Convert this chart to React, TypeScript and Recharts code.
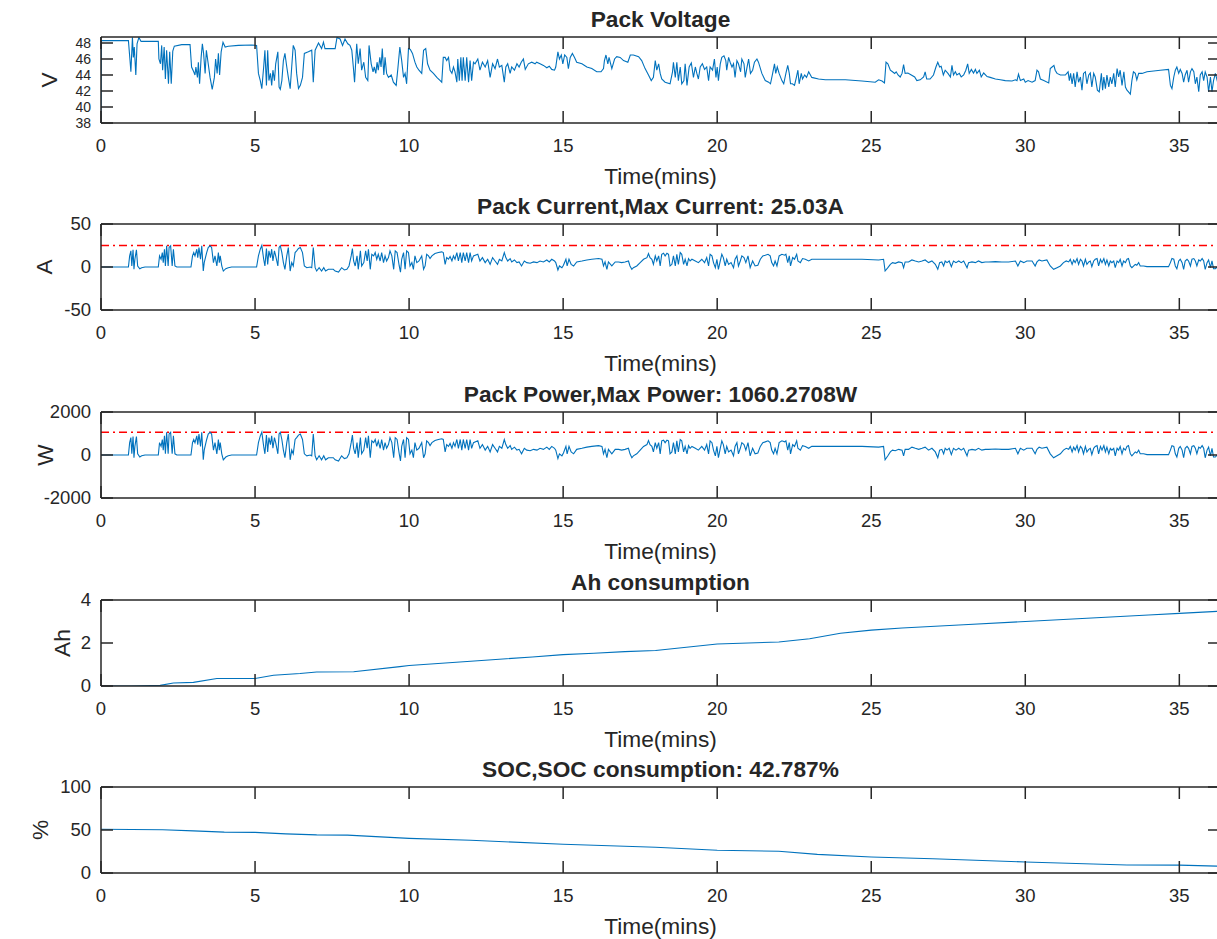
import React from 'react'
import { LineChart, Line, XAxis, YAxis, ReferenceLine } from 'recharts'

// time axis (minutes)
const timeTicks = [0, 5, 10, 15, 20, 25, 30, 35]
const timeMax = 36.32

// Pack voltage (V)
const voltTime = [
  0, 0.01, 0.89, 0.94, 0.97, 1.02, 1.05, 1.08, 1.13, 1.17,
  1.23, 1.3, 1.86, 1.88, 1.93, 1.97, 2.0, 2.05, 2.09, 2.13,
  2.19, 2.23, 2.28, 2.33, 2.38, 2.62, 2.89, 2.94, 3.01, 3.05,
  3.08, 3.13, 3.16, 3.2, 3.25, 3.29, 3.33, 3.38, 3.42, 3.48,
  3.54, 3.61, 3.68, 3.72, 3.77, 3.81, 3.85, 3.9, 3.96, 4.03,
  4.13, 4.46, 4.89, 5.05, 5.11, 5.17, 5.22, 5.28, 5.32, 5.37,
  5.41, 5.45, 5.5, 5.54, 5.58, 5.63, 5.67, 5.74, 5.78, 5.82,
  5.87, 5.92, 5.97, 6.03, 6.08, 6.14, 6.19, 6.24, 6.3, 6.35,
  6.41, 6.47, 6.54, 6.6, 6.73, 6.84, 6.89, 6.95, 7.06, 7.16,
  7.22, 7.27, 7.6, 7.66, 7.76, 7.84, 7.92, 8.01, 8.08, 8.14,
  8.19, 8.23, 8.3, 8.35, 8.41, 8.46, 8.53, 8.59, 8.66, 8.7,
  8.77, 8.83, 8.87, 8.92, 8.96, 9.0, 9.05, 9.09, 9.13, 9.18,
  9.22, 9.27, 9.33, 9.42, 9.49, 9.58, 9.63, 9.7, 9.76, 9.82,
  9.87, 9.92, 9.98, 10.04, 10.11, 10.19, 10.25, 10.32, 10.41, 10.47,
  10.54, 10.6, 10.68, 10.79, 10.9, 11.01, 11.06, 11.11, 11.17, 11.22,
  11.28, 11.33, 11.39, 11.44, 11.49, 11.55, 11.58, 11.63, 11.68, 11.72,
  11.76, 11.82, 11.87, 11.93, 11.98, 12.03, 12.09, 12.14, 12.23, 12.3,
  12.38, 12.47, 12.55, 12.63, 12.71, 12.79, 12.87, 12.93, 13.01, 13.09,
  13.14, 13.2, 13.28, 13.33, 13.42, 13.5, 13.57, 13.64, 13.71, 13.77,
  13.87, 13.98, 14.09, 14.14, 14.25, 14.36, 14.47, 14.55, 14.63, 14.72,
  14.76, 14.83, 14.88, 14.94, 14.99, 15.05, 15.12, 15.17, 15.23, 15.3,
  15.37, 15.44, 15.61, 15.77, 15.93, 16.09, 16.23, 16.31, 16.34, 16.39,
  16.45, 16.49, 16.58, 16.67, 16.74, 16.85, 16.96, 17.1, 17.18, 17.28,
  17.45, 17.55, 17.66, 17.77, 17.86, 17.93, 17.99, 18.04, 18.1, 18.15,
  18.2, 18.31, 18.47, 18.55, 18.58, 18.64, 18.69, 18.74, 18.8, 18.85,
  18.92, 18.96, 19.02, 19.09, 19.16, 19.23, 19.29, 19.34, 19.39, 19.45,
  19.52, 19.59, 19.66, 19.72, 19.77, 19.85, 19.91, 19.96, 20.0, 20.04,
  20.1, 20.15, 20.22, 20.28, 20.31, 20.37, 20.42, 20.48, 20.53, 20.58,
  20.64, 20.69, 20.76, 20.8, 20.87, 20.91, 20.96, 21.02, 21.08, 21.15,
  21.21, 21.29, 21.34, 21.45, 21.56, 21.67, 21.73, 21.8, 21.86, 21.9,
  21.95, 22.01, 22.1, 22.16, 22.23, 22.29, 22.34, 22.38, 22.44, 22.51,
  22.57, 22.62, 22.66, 22.73, 22.77, 22.84, 22.9, 22.97, 23.07, 23.29,
  23.51, 23.72, 24.16, 24.7, 25.13, 25.24, 25.35, 25.43, 25.48, 25.54,
  25.62, 25.69, 25.76, 25.81, 25.87, 25.94, 26.0, 26.05, 26.1, 26.19,
  26.3, 26.41, 26.48, 26.59, 26.7, 26.75, 26.8, 26.91, 27.02, 27.1,
  27.16, 27.22, 27.27, 27.34, 27.4, 27.49, 27.57, 27.62, 27.67, 27.73,
  27.78, 27.86, 27.92, 28.0, 28.07, 28.13, 28.18, 28.25, 28.32, 28.38,
  28.43, 28.51, 28.57, 28.65, 28.76, 28.86, 29.03, 29.19, 29.35, 29.57,
  29.68, 29.73, 29.78, 29.84, 29.95, 30.0, 30.09, 30.22, 30.32, 30.38,
  30.43, 30.49, 30.6, 30.76, 30.81, 30.87, 30.93, 30.97, 31.03, 31.14,
  31.3, 31.39, 31.43, 31.47, 31.52, 31.57, 31.62, 31.68, 31.73, 31.79,
  31.84, 31.89, 31.95, 32.0, 32.06, 32.11, 32.16, 32.22, 32.27, 32.34,
  32.4, 32.47, 32.51, 32.55, 32.6, 32.65, 32.71, 32.76, 32.81, 32.87,
  32.92, 32.98, 33.03, 33.08, 33.14, 33.2, 33.25, 33.3, 33.35, 33.41,
  33.46, 33.51, 33.57, 33.62, 33.68, 33.79, 33.95, 34.17, 34.38, 34.65,
  34.71, 34.76, 34.82, 34.87, 34.92, 34.98, 35.03, 35.09, 35.14, 35.19,
  35.25, 35.3, 35.36, 35.41, 35.47, 35.52, 35.57, 35.63, 35.68, 35.74,
  35.79, 35.84, 35.9, 35.95, 36.01, 36.06, 36.11, 36.17, 36.23, 36.32,
]
const voltValue = [
  38, 48.3, 48.3, 45.9, 44.4, 48.7, 46.2, 47.5, 44.0, 47.9,
  48.7, 48.2, 48.2, 46.0, 45.4, 47.7, 44.6, 47.5, 43.5, 47.1,
  42.9, 46.9, 42.9, 47.0, 47.6, 47.8, 47.8, 45.0, 44.4, 44.0,
  45.0, 43.7, 45.6, 42.9, 46.2, 47.9, 46.7, 44.2, 47.1, 45.4,
  43.7, 42.2, 43.7, 46.0, 44.2, 46.7, 44.0, 46.9, 48.1, 47.5,
  47.6, 47.7, 47.75, 47.7, 44.2, 43.3, 42.3, 45.0, 47.1, 42.7,
  47.1, 43.3, 44.2, 42.7, 44.6, 43.3, 45.4, 46.9, 42.5, 42.2,
  43.3, 45.8, 46.7, 45.0, 43.7, 42.3, 45.0, 47.7, 47.1, 44.2,
  42.3, 42.7, 43.7, 46.7, 46.9, 47.1, 43.1, 47.1, 48.0, 47.3,
  48.1, 47.3, 47.3, 48.7, 48.5, 47.7, 48.5, 47.9, 47.7, 47.1,
  45.0, 43.1, 47.9, 45.4, 47.3, 44.6, 45.6, 43.7, 43.3, 47.7,
  45.4, 44.4, 45.0, 44.2, 45.6, 44.6, 46.2, 45.0, 47.3, 44.0,
  46.2, 44.2, 43.7, 44.0, 43.1, 42.7, 44.6, 47.5, 45.8, 43.7,
  44.2, 42.9, 47.3, 47.2, 46.7, 45.6, 45.0, 44.6, 44.2, 47.1,
  47.3, 45.4, 44.6, 44.2, 43.7, 43.3, 43.1, 46.2, 46.2, 45.8,
  46.2, 44.6, 44.2, 45.0, 44.4, 43.1, 46.0, 43.3, 46.2, 43.3,
  46.2, 43.3, 46.2, 43.1, 45.8, 43.3, 45.6, 45.4, 46.0, 44.6,
  45.6, 45.0, 45.8, 43.7, 45.4, 44.8, 46.0, 45.0, 45.2, 43.1,
  45.0, 45.4, 44.2, 45.0, 44.6, 45.4, 45.0, 45.6, 46.0, 44.7,
  45.4, 45.6, 45.4, 45.6, 45.4, 45.2, 44.9, 45.1, 44.7, 44.6,
  45.0, 46.9, 46.0, 46.5, 45.4, 46.5, 46.2, 44.8, 46.2, 46.7,
  46.2, 45.6, 45.4, 45.0, 44.8, 44.4, 44.4, 44.8, 45.8, 46.5,
  45.4, 46.2, 44.8, 46.0, 46.3, 46.2, 45.8, 45.6, 46.5, 46.5,
  46.3, 45.8, 44.8, 44.0, 43.3, 43.7, 45.8, 44.6, 45.4, 44.2,
  43.5, 43.1, 42.9, 44.4, 45.6, 43.7, 45.6, 43.3, 45.0, 42.9,
  43.3, 45.4, 42.7, 45.0, 45.5, 43.7, 45.0, 44.2, 43.5, 45.0,
  45.4, 44.7, 45.0, 43.3, 45.0, 44.6, 46.0, 43.7, 45.0, 43.3,
  45.4, 46.2, 46.4, 45.8, 44.6, 46.2, 45.6, 45.0, 45.4, 43.7,
  45.8, 45.4, 44.4, 46.0, 45.4, 43.7, 44.8, 46.0, 44.2, 44.6,
  45.6, 46.0, 45.6, 44.2, 43.3, 43.1, 42.9, 44.2, 45.4, 44.2,
  45.0, 44.2, 43.3, 42.9, 44.2, 45.2, 44.2, 42.9, 42.9, 42.7,
  43.7, 44.6, 42.9, 44.2, 43.5, 44.0, 43.7, 44.4, 43.7, 43.5,
  43.4, 43.4, 43.4, 43.25, 43.1, 43.4, 43.25, 43.0, 45.6, 45.4,
  44.6, 44.4, 44.2, 44.4, 44.0, 43.75, 44.2, 45.3, 44.2, 44.25,
  44.0, 43.75, 43.3, 43.4, 43.75, 44.4, 43.5, 43.5, 44.0, 45.0,
  45.6, 45.0, 45.1, 44.0, 44.6, 44.2, 43.75, 45.2, 44.0, 44.4,
  44.0, 44.2, 43.75, 44.0, 44.6, 45.4, 44.2, 44.7, 44.25, 44.7,
  44.2, 44.6, 43.75, 44.25, 43.8, 43.7, 43.5, 43.4, 43.3, 43.25,
  43.4, 43.3, 44.1, 43.3, 43.5, 43.1, 43.3, 43.1, 43.3, 44.6,
  44.4, 43.5, 43.3, 43.0, 44.8, 45.0, 45.2, 44.6, 44.2, 44.0,
  44.0, 44.4, 43.3, 44.2, 42.9, 44.2, 42.5, 44.4, 43.1, 43.75,
  42.1, 44.2, 44.4, 42.9, 44.0, 44.25, 42.5, 44.2, 43.75, 42.1,
  41.9, 44.2, 42.1, 43.75, 42.3, 44.0, 42.5, 43.75, 42.9, 44.2,
  42.5, 44.8, 43.75, 44.6, 42.7, 44.4, 42.5, 42.1, 41.9, 41.6,
  43.3, 44.4, 44.2, 43.4, 44.2, 44.2, 44.4, 44.5, 44.6, 44.7,
  42.7, 42.3, 43.75, 44.6, 45.0, 44.2, 44.7, 44.2, 43.1, 44.0,
  44.6, 43.1, 44.4, 44.8, 44.4, 42.9, 43.75, 41.9, 44.0, 44.4,
  43.3, 44.4, 43.75, 41.9, 43.75, 41.9, 43.3, 44.2, 43.3, 44.0,
]

// Pack current (A) and pack power (W) share one time base
const driveTime = [
  0, 0.89, 0.93, 0.97, 1.0, 1.04, 1.07, 1.1, 1.15, 1.19,
  1.26, 1.32, 1.43, 1.86, 1.9, 1.95, 1.99, 2.02, 2.06, 2.09,
  2.13, 2.18, 2.21, 2.26, 2.31, 2.35, 2.4, 2.46, 2.92, 2.97,
  3.01, 3.05, 3.11, 3.14, 3.18, 3.23, 3.27, 3.32, 3.35, 3.43,
  3.48, 3.54, 3.59, 3.65, 3.7, 3.76, 3.81, 3.84, 3.87, 3.92,
  3.97, 4.05, 4.13, 4.24, 5.05, 5.11, 5.17, 5.22, 5.28, 5.32,
  5.37, 5.41, 5.45, 5.5, 5.54, 5.58, 5.63, 5.67, 5.74, 5.78,
  5.82, 5.87, 5.92, 5.97, 6.03, 6.08, 6.14, 6.19, 6.24, 6.3,
  6.35, 6.41, 6.47, 6.54, 6.6, 6.68, 6.79, 6.84, 6.89, 6.95,
  7.0, 7.08, 7.16, 7.23, 7.29, 7.38, 7.54, 7.6, 7.71, 7.81,
  7.9, 7.98, 8.05, 8.12, 8.16, 8.2, 8.25, 8.31, 8.35, 8.42,
  8.46, 8.53, 8.59, 8.64, 8.68, 8.74, 8.79, 8.85, 8.9, 8.95,
  9.0, 9.06, 9.11, 9.17, 9.22, 9.27, 9.33, 9.38, 9.44, 9.5,
  9.55, 9.61, 9.68, 9.72, 9.76, 9.82, 9.87, 9.92, 9.98, 10.03,
  10.09, 10.14, 10.19, 10.25, 10.32, 10.41, 10.47, 10.52, 10.57, 10.63,
  10.68, 10.74, 10.84, 10.95, 11.06, 11.11, 11.17, 11.22, 11.28, 11.33,
  11.39, 11.44, 11.49, 11.55, 11.6, 11.66, 11.71, 11.76, 11.82, 11.87,
  11.93, 11.98, 12.03, 12.09, 12.23, 12.3, 12.38, 12.47, 12.55, 12.63,
  12.71, 12.79, 12.87, 12.93, 13.01, 13.09, 13.14, 13.2, 13.28, 13.33,
  13.42, 13.5, 13.57, 13.65, 13.74, 13.82, 13.93, 14.04, 14.15, 14.25,
  14.36, 14.47, 14.55, 14.63, 14.72, 14.76, 14.83, 14.88, 14.96, 15.01,
  15.09, 15.13, 15.19, 15.26, 15.34, 15.44, 15.61, 15.77, 15.93, 16.15,
  16.26, 16.31, 16.36, 16.42, 16.47, 16.58, 16.69, 16.8, 16.9, 17.01,
  17.12, 17.17, 17.23, 17.28, 17.39, 17.5, 17.61, 17.72, 17.77, 17.82,
  17.88, 17.93, 17.99, 18.04, 18.1, 18.15, 18.2, 18.26, 18.31, 18.37,
  18.42, 18.47, 18.53, 18.58, 18.64, 18.69, 18.74, 18.8, 18.85, 18.91,
  18.96, 19.02, 19.07, 19.12, 19.18, 19.29, 19.39, 19.5, 19.59, 19.66,
  19.72, 19.77, 19.83, 19.88, 19.94, 19.99, 20.04, 20.1, 20.15, 20.2,
  20.26, 20.31, 20.37, 20.45, 20.53, 20.58, 20.64, 20.69, 20.75, 20.8,
  20.87, 20.93, 21.0, 21.07, 21.15, 21.23, 21.32, 21.4, 21.48, 21.56,
  21.65, 21.72, 21.77, 21.83, 21.88, 21.94, 22.01, 22.1, 22.19, 22.23,
  22.29, 22.34, 22.38, 22.45, 22.51, 22.58, 22.62, 22.7, 22.77, 22.86,
  22.97, 23.07, 23.72, 24.7, 25.24, 25.4, 25.45, 25.54, 25.62, 25.69,
  25.78, 25.89, 26.0, 26.05, 26.1, 26.21, 26.32, 26.43, 26.54, 26.65,
  26.75, 26.86, 26.97, 27.08, 27.16, 27.22, 27.29, 27.35, 27.4, 27.46,
  27.53, 27.6, 27.67, 27.75, 27.84, 27.92, 28.0, 28.11, 28.16, 28.27,
  28.38, 28.48, 28.59, 28.7, 28.81, 29.03, 29.24, 29.46, 29.68, 29.76,
  29.84, 29.95, 30.05, 30.22, 30.32, 30.38, 30.45, 30.54, 30.7, 30.81,
  30.92, 31.03, 31.14, 31.24, 31.33, 31.41, 31.46, 31.52, 31.57, 31.62,
  31.68, 31.73, 31.79, 31.84, 31.89, 31.95, 32.0, 32.06, 32.11, 32.16,
  32.22, 32.27, 32.33, 32.38, 32.44, 32.49, 32.55, 32.6, 32.65, 32.71,
  32.76, 32.81, 32.87, 32.92, 32.98, 33.03, 33.08, 33.14, 33.19, 33.25,
  33.3, 33.35, 33.41, 33.46, 33.57, 33.62, 33.68, 33.73, 33.84, 33.95,
  34.65, 34.71, 34.76, 34.82, 34.87, 34.92, 34.98, 35.03, 35.09, 35.14,
  35.19, 35.25, 35.3, 35.36, 35.41, 35.47, 35.52, 35.57, 35.63, 35.68,
  35.74, 35.79, 35.84, 35.9, 35.95, 36.01, 36.06, 36.11, 36.17, 36.32,
]
const ampValue = [
  0, 0, 12.9, 18.8, 1.2, 19.9, -2.7, 9.0, 19.9, 1.2,
  -2.0, -0.8, 0, 0, 12.9, 9.0, 16.8, 5.1, 20.7, 1.2,
  24.6, 1.2, 22.7, 24.6, 1.2, 20.7, 1.2, 0, 0, 12.9,
  16.8, 12.9, 20.7, 10.9, 22.7, 9.0, 24.6, -4.7, 5.1, 16.8,
  22.7, 24.6, 22.7, 5.1, 12.9, 1.2, 16.8, 5.1, 12.9, 1.2,
  -4.7, -2.0, -0.8, 0, 0, 12.9, 20.7, 25.03, 9.0, 1.2,
  21.5, 3.1, 18.8, 10.9, 20.7, 7.0, 18.8, 12.9, 1.2, 22.7,
  24.6, 16.8, 5.1, -2.7, 12.9, 22.7, -4.7, 5.1, 1.2, 16.8,
  18.8, 21.5, 22.7, 16.8, 1.2, -0.8, 0, -0.8, 22.7, -0.8,
  -4.7, -0.8, -4.7, -0.8, -4.7, -2.7, -2.7, -4.7, -5.9, -0.8,
  -3.5, -2.7, 1.2, 12.9, 21.5, 7.0, 1.2, 12.9, -2.7, 18.8,
  1.2, 5.1, 18.8, 7.0, 20.7, -2.7, 14.8, 12.9, 16.8, 9.0,
  14.8, 7.0, 16.8, 5.1, 12.9, 7.0, 10.9, 18.8, 12.9, -2.7,
  18.8, 16.8, 1.2, -5.9, 9.0, 16.8, -2.7, 18.8, 16.8, 1.2,
  5.1, -2.7, 12.9, 5.1, 7.0, 12.9, -2.7, 1.2, 14.8, 12.9,
  9.8, 12.9, 15.6, 16.8, 17.6, 16.8, 3.1, 10.9, 9.0, 12.1,
  7.0, 12.9, 9.0, 16.8, 7.0, 16.8, 5.1, 16.8, 7.0, 16.8,
  5.1, 16.8, 7.0, 12.9, 14.8, 7.0, 10.9, 5.1, 9.0, 3.1,
  10.9, 7.0, 3.1, 9.0, 7.0, 16.8, 10.9, 7.0, 9.8, 5.9,
  8.2, 5.1, 5.9, 1.2, 7.0, 5.1, 4.3, 5.9, 5.1, 7.0,
  5.9, 8.2, 5.9, 9.0, 7.0, 5.1, -3.5, 1.2, -0.8, 2.0,
  9.0, 1.2, 9.0, 3.1, 1.2, 5.9, 7.0, 8.2, 9.0, 9.8,
  9.0, 1.2, 5.9, -2.7, 5.9, 1.2, 5.9, 5.9, 5.1, 5.9,
  7.0, 1.2, -2.7, -0.8, 1.2, 5.1, 9.0, 10.9, 15.6, 10.9,
  9.0, 3.1, 12.9, 7.0, 12.9, 1.2, 14.8, 16.0, 12.9, 16.0,
  14.8, 1.2, 3.1, 12.9, 1.2, 14.8, 3.1, 16.8, 14.8, 3.1,
  9.0, 1.2, 9.8, 7.0, 9.0, 7.0, 5.1, 9.0, 5.1, 10.9,
  1.2, 14.8, 12.9, 5.1, -0.8, 9.0, -2.7, 7.0, 14.8, 10.9,
  1.2, 9.0, 3.1, 5.1, -0.8, 9.0, 12.9, 1.2, 7.0, 12.9,
  10.9, 5.1, 12.9, -0.8, 7.0, 1.2, 2.0, 9.0, 12.9, 13.7,
  14.8, 12.9, 5.1, 1.2, 7.0, 1.2, 12.9, 14.8, 13.7, 14.8,
  5.1, 12.9, 1.2, 10.9, 9.0, 14.8, 7.0, 5.1, 9.8, 9.0,
  7.0, 9.0, 9.0, 9.0, 8.2, 9.0, -4.7, -0.8, 3.1, 5.1,
  4.3, 5.9, 5.1, -0.8, 5.9, 5.9, 8.2, 7.0, 5.9, 7.0,
  8.2, 5.1, 7.0, 3.1, -2.7, 5.1, 5.9, 1.2, 7.0, 5.1,
  7.0, 0.4, 7.0, 5.1, 7.0, 5.1, 7.0, -0.8, 5.1, 5.9,
  5.1, 7.0, 5.1, 5.9, 5.9, 6.3, 5.9, 5.9, 7.0, 1.2,
  7.0, 5.1, 7.0, 7.0, 1.2, 5.9, 8.2, 7.0, 8.2, 1.2,
  -2.7, -0.8, 1.2, 5.1, 7.0, 5.9, 9.0, 3.1, 8.2, 5.1,
  9.8, 3.1, 9.0, 7.0, 1.2, 9.0, 3.1, 5.9, 7.0, 0.4,
  7.0, 9.0, 9.8, 1.2, 9.0, 5.1, 9.8, 3.1, 8.2, 1.2,
  7.0, 5.1, 7.0, -0.8, 7.0, 5.1, 9.0, 1.2, 7.0, 5.1,
  9.0, 9.8, 1.2, -0.8, 3.1, 2.0, 5.1, 1.2, 1.2, 0.4,
  0.4, 5.1, 9.8, 9.0, 1.2, -2.0, 7.0, 9.0, 5.1, -2.7,
  7.0, 9.0, 7.0, 1.2, 9.0, 9.8, 7.0, 1.2, 8.2, 7.0,
  9.8, 7.0, -2.7, 5.1, 8.2, -0.8, 7.0, -2.0, -2.0, 3.0,
]
const wattValue = [
  0, 0, 574, 808, 55, 856, -128, 400, 856, 55,
  -95, -38, 0, 0, 574, 400, 722, 227, 890, 55,
  1058, 55, 976, 1058, 55, 890, 55, 0, 0, 574,
  722, 574, 890, 485, 976, 400, 1058, -223, 227, 722,
  976, 1058, 976, 227, 574, 55, 722, 227, 574, 55,
  -223, -95, -38, 0, 0, 574, 890, 1060.27, 400, 55,
  925, 143, 808, 485, 890, 312, 808, 574, 55, 976,
  1058, 722, 227, -128, 574, 976, -223, 227, 55, 722,
  808, 925, 976, 722, 55, -38, 0, -38, 976, -38,
  -223, -38, -223, -38, -223, -128, -128, -223, -280, -38,
  -166, -128, 55, 574, 925, 312, 55, 574, -128, 808,
  55, 227, 808, 312, 890, -128, 659, 574, 722, 400,
  659, 312, 722, 227, 574, 312, 485, 808, 574, -128,
  808, 722, 55, -280, 400, 722, -128, 808, 722, 55,
  227, -128, 574, 227, 312, 574, -128, 55, 659, 574,
  436, 574, 671, 722, 757, 722, 143, 485, 400, 538,
  312, 574, 400, 722, 312, 722, 227, 722, 312, 722,
  227, 722, 312, 574, 659, 312, 485, 227, 400, 143,
  485, 312, 143, 400, 312, 722, 485, 312, 436, 263,
  365, 227, 263, 55, 312, 227, 198, 263, 227, 312,
  263, 365, 263, 400, 312, 227, -166, 55, -38, 92,
  400, 55, 400, 143, 55, 263, 312, 365, 400, 436,
  400, 55, 263, -128, 263, 55, 263, 263, 227, 263,
  312, 55, -128, -38, 55, 227, 400, 485, 671, 485,
  400, 143, 574, 312, 574, 55, 659, 688, 574, 688,
  659, 55, 143, 574, 55, 659, 143, 722, 659, 143,
  400, 55, 436, 312, 400, 312, 227, 400, 227, 485,
  55, 659, 574, 227, -38, 400, -128, 312, 659, 485,
  55, 400, 143, 227, -38, 400, 574, 55, 312, 574,
  485, 227, 574, -38, 312, 55, 92, 400, 574, 610,
  659, 574, 227, 55, 312, 55, 574, 659, 610, 659,
  227, 574, 55, 485, 400, 659, 312, 227, 436, 400,
  312, 400, 400, 400, 365, 400, -223, -38, 143, 227,
  198, 263, 227, -38, 263, 263, 365, 312, 263, 312,
  365, 227, 312, 143, -128, 227, 263, 55, 312, 227,
  312, 18, 312, 227, 312, 227, 312, -38, 227, 263,
  227, 312, 227, 263, 263, 280, 263, 263, 312, 55,
  312, 227, 312, 312, 55, 263, 365, 312, 365, 55,
  -128, -38, 55, 227, 312, 263, 400, 143, 365, 227,
  436, 143, 400, 312, 55, 400, 143, 263, 312, 18,
  312, 400, 436, 55, 400, 227, 436, 143, 365, 55,
  312, 227, 312, -38, 312, 227, 400, 55, 312, 227,
  400, 436, 55, -38, 143, 92, 227, 55, 55, 18,
  18, 227, 436, 400, 55, -95, 312, 400, 227, -128,
  312, 400, 312, 55, 400, 436, 312, 55, 365, 312,
  436, 312, -128, 227, 365, -38, 312, -95, -95, 135,
]
const maxCurrent = 25.03
const maxPower = 1060.2708

// Ah consumption
const ahTime = [0, 1, 1.92, 2.35, 3, 3.76, 5, 5.6, 6.46, 7, 8.2, 9.7, 10, 12, 14, 15, 16, 17, 18, 19, 20, 22, 23, 24, 25, 26, 28, 30, 32, 34, 35, 36.32]
const ahValue = [0, 0, 0.03, 0.14, 0.17, 0.35, 0.35, 0.5, 0.58, 0.65, 0.66, 0.9, 0.95, 1.15, 1.35, 1.46, 1.52, 1.6, 1.65, 1.8, 1.95, 2.05, 2.2, 2.45, 2.6, 2.7, 2.85, 3.0, 3.15, 3.3, 3.38, 3.48]

// state of charge (%)
const socTime = [0, 2, 3, 4, 5, 6, 7, 8, 10, 12, 15, 18, 20, 22, 23.25, 25, 27, 30, 33.3, 35, 36.32]
const socValue = [50.8, 50.3, 49, 47.5, 47.2, 45.5, 44.3, 44, 40.3, 38, 33.4, 30, 26.4, 25.3, 21.7, 18.6, 16.5, 12.8, 9.3, 9.1, 7.9]

const AXIS = '#262626'
const BLUE = '#0072BD'
const FONT = '"Liberation Sans", Arial, Helvetica, sans-serif'
const PLOT_LEFT = 101
const PLOT_RIGHT = 1220
const PLOT_H = 86
const PAD_TOP = 40
const PAD_BOTTOM = 70
const CHART_W = 1240
const TICK_LEN = 12
const TICK_FONT = 18.5
const LABEL_FONT = 22.7

const bottomTick = (p: any) => (
  <g>
    <line x1={p.x} y1={p.y} x2={p.x} y2={p.y - TICK_LEN} stroke={AXIS} strokeWidth={1.5} />
    <text x={p.x} y={p.y + 29} textAnchor="middle" fontSize={TICK_FONT} fill={AXIS} fontFamily={FONT}>
      {String(p.payload.value)}
    </text>
  </g>
)
const topTick = (p: any) => (
  <line x1={p.x} y1={p.y} x2={p.x} y2={p.y + TICK_LEN} stroke={AXIS} strokeWidth={1.5} />
)
const makeLeftTick = (fontSize: number) => (p: any) => (
  <g>
    <line x1={p.x} y1={p.y} x2={p.x + TICK_LEN} y2={p.y} stroke={AXIS} strokeWidth={1.5} />
    <text x={p.x - 10} y={p.y} dy="0.35em" textAnchor="end" fontSize={fontSize} fill={AXIS} fontFamily={FONT}>
      {String(p.payload.value)}
    </text>
  </g>
)
const rightTick = (p: any) => (
  <line x1={p.x} y1={p.y} x2={p.x - TICK_LEN} y2={p.y} stroke={AXIS} strokeWidth={1.5} />
)

interface PanelProps {
  top: number
  title: string
  yLabel: string
  yLabelX: number
  data: Array<{ t: number; v: number }>
  yDomain: [number, number]
  yTicks: number[]
  yTickFont?: number
  refY?: number
}

function Panel(props: PanelProps) {
  const { top, title, yLabel, yLabelX, data, yDomain, yTicks, yTickFont = TICK_FONT, refY } = props
  const h = PAD_TOP + PLOT_H + PAD_BOTTOM
  const axisLine = { stroke: AXIS, strokeWidth: 1.5 }
  const textBox = { position: 'absolute' as const, left: PLOT_LEFT, width: PLOT_RIGHT - PLOT_LEFT, textAlign: 'center' as const, height: 26, lineHeight: '26px', fontSize: LABEL_FONT, color: AXIS, whiteSpace: 'nowrap' as const }

  return (
    <div style={{ position: 'absolute', left: 0, top: top - PAD_TOP, width: CHART_W, height: h }}>
      <LineChart width={CHART_W} height={h} data={data} margin={{ top: 0, right: 0, bottom: 0, left: 0 }}>
        <XAxis xAxisId="b" dataKey="t" type="number" domain={[0, timeMax]} ticks={timeTicks} interval={0} allowDataOverflow height={PAD_BOTTOM} tickSize={0} tickMargin={0} axisLine={axisLine} tickLine={false} tick={bottomTick} />
        <XAxis xAxisId="t" orientation="top" dataKey="t" type="number" domain={[0, timeMax]} ticks={timeTicks} interval={0} allowDataOverflow height={PAD_TOP} tickSize={0} tickMargin={0} axisLine={axisLine} tickLine={false} tick={topTick} />
        <YAxis yAxisId="l" type="number" domain={yDomain} ticks={yTicks} interval={0} allowDataOverflow width={PLOT_LEFT} tickSize={0} tickMargin={0} axisLine={axisLine} tickLine={false} tick={makeLeftTick(yTickFont)} />
        <YAxis yAxisId="r" orientation="right" type="number" domain={yDomain} ticks={yTicks} interval={0} allowDataOverflow width={CHART_W - PLOT_RIGHT} tickSize={0} tickMargin={0} axisLine={axisLine} tickLine={false} tick={rightTick} />
        {refY !== undefined && (
          <ReferenceLine xAxisId="b" yAxisId="l" y={refY} stroke="#FF0000" strokeWidth={1.6} strokeDasharray="8 4 2 4" />
        )}
        <Line xAxisId="b" yAxisId="l" dataKey="v" type="linear" stroke={BLUE} strokeWidth={1.1} dot={false} activeDot={false} isAnimationActive={false} />
      </LineChart>
      <div style={{ ...textBox, top: PAD_TOP - 18 - 13, fontWeight: 'bold' }}>{title}</div>
      <div style={{ ...textBox, top: PAD_TOP + PLOT_H + 53 - 13 }}>Time(mins)</div>
      <div
        style={{
          position: 'absolute',
          left: yLabelX,
          top: PAD_TOP + PLOT_H / 2,
          transform: 'translate(-50%, -50%) rotate(-90deg)',
          fontSize: LABEL_FONT,
          color: AXIS,
          whiteSpace: 'nowrap',
          lineHeight: '26px',
        }}
      >
        {yLabel}
      </div>
    </div>
  )
}

export default function App() {
  const voltData = voltTime.map((t, i) => ({ t, v: voltValue[i] }))
  const ampData = driveTime.map((t, i) => ({ t, v: ampValue[i] }))
  const wattData = driveTime.map((t, i) => ({ t, v: wattValue[i] }))
  const ahData = ahTime.map((t, i) => ({ t, v: ahValue[i] }))
  const socData = socTime.map((t, i) => ({ t, v: socValue[i] }))

  return (
    <div style={{ position: 'fixed', left: 0, top: 0, width: 1217, height: 939, overflow: 'hidden', background: '#fff', fontFamily: FONT }}>
      <Panel top={37} title="Pack Voltage" yLabel="V" yLabelX={49} data={voltData} yDomain={[38, 48.75]} yTicks={[38, 40, 42, 44, 46, 48]} yTickFont={14} />
      <Panel top={224} title={`Pack Current,Max Current: ${maxCurrent}A`} yLabel="A" yLabelX={44} data={ampData} yDomain={[-50, 50]} yTicks={[-50, 0, 50]} refY={maxCurrent} />
      <Panel top={412} title={`Pack Power,Max Power: ${maxPower}W`} yLabel="W" yLabelX={45} data={wattData} yDomain={[-2000, 2000]} yTicks={[-2000, 0, 2000]} refY={maxPower} />
      <Panel top={600} title="Ah consumption" yLabel="Ah" yLabelX={62} data={ahData} yDomain={[0, 4]} yTicks={[0, 2, 4]} />
      <Panel top={787} title="SOC,SOC consumption: 42.787%" yLabel="%" yLabelX={40} data={socData} yDomain={[0, 100]} yTicks={[0, 50, 100]} />
    </div>
  )
}
